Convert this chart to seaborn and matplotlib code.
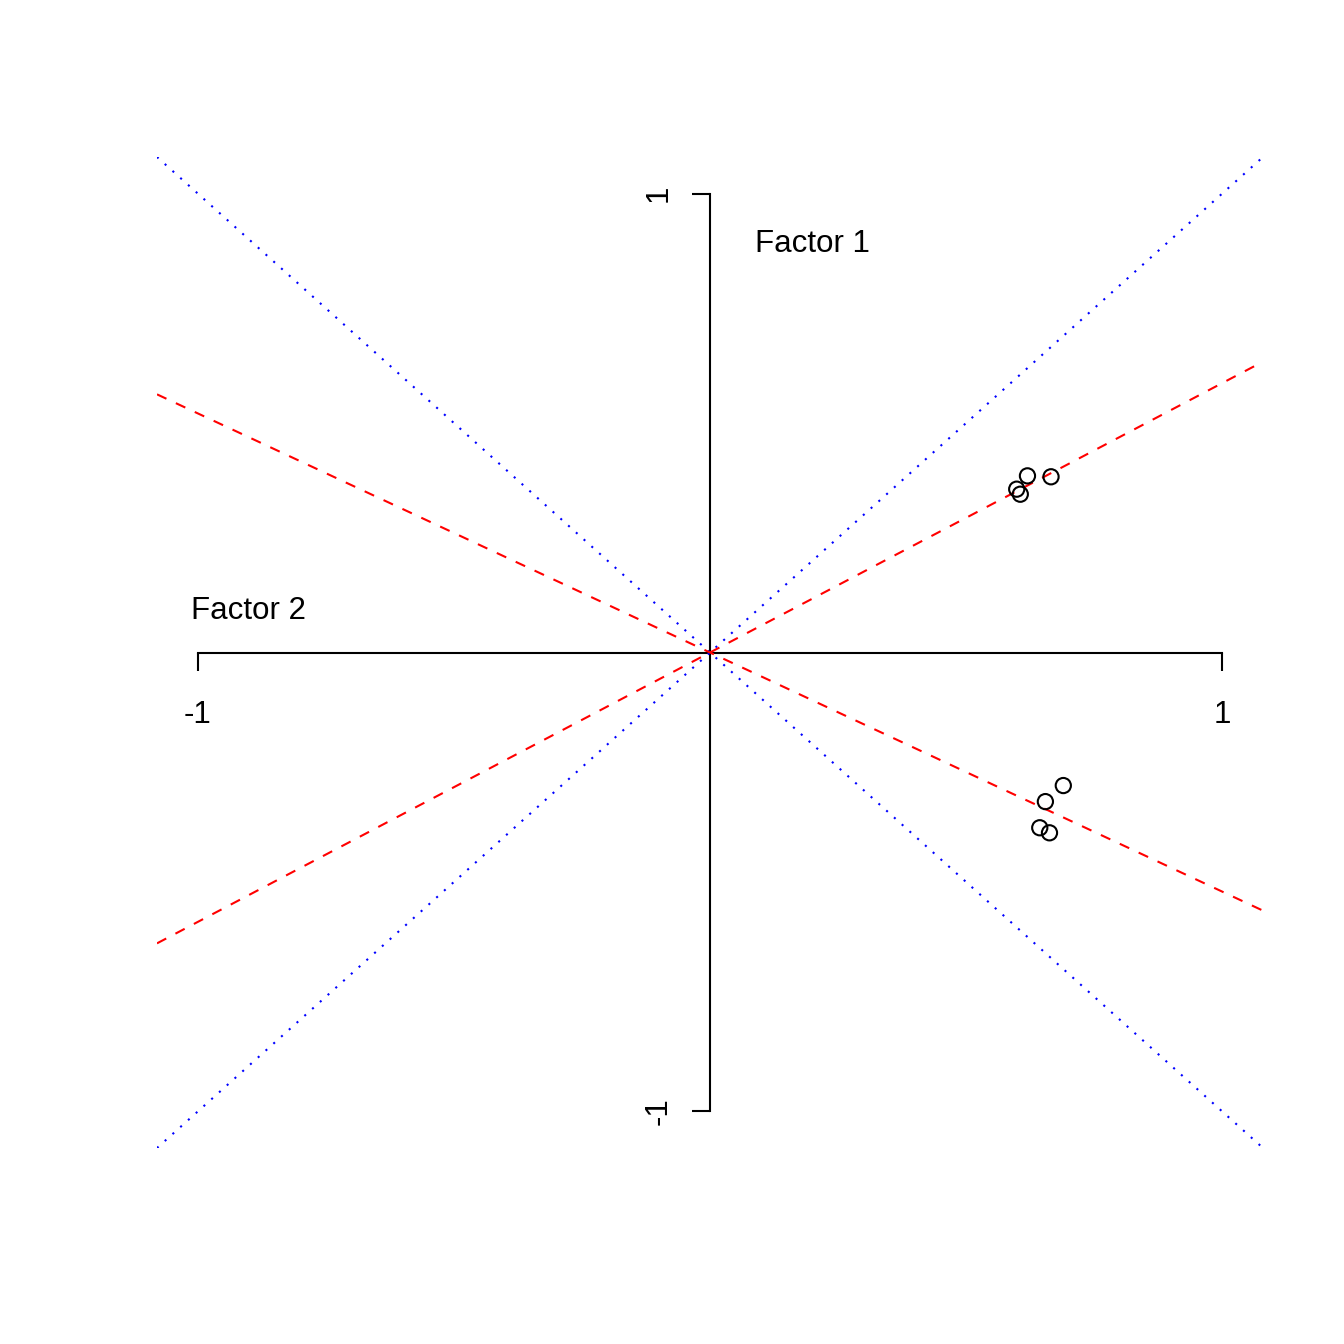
import pandas as pd
import seaborn as sns
import matplotlib.pyplot as plt

# loadings
load_x = [0.620, 0.666, 0.599, 0.606, 0.690, 0.655, 0.644, 0.663]
load_y = [0.385, 0.383, 0.356, 0.345, -0.290, -0.325, -0.382, -0.393]

# lines through the origin
blue_slopes = [1.0, -1.0]
red_slopes = [0.587, -0.521]

axis_ticks = [-1, 1]
axis_labels = ["-1", "1"]

sns.set_style("white")
plt.rcParams["font.family"] = ["Liberation Sans", "DejaVu Sans"]
plt.rcParams["text.color"] = "black"
plt.rcParams["xtick.color"] = "black"
plt.rcParams["ytick.color"] = "black"

df = pd.DataFrame({"x": load_x, "y": load_y})

fig = plt.figure(figsize=(13.44, 13.44), dpi=100)
ax = fig.add_axes([157 / 1344, 196 / 1344, 1106 / 1344, 991 / 1344])

for s in blue_slopes:
    ax.axline((0, 0), slope=s, color="blue", linewidth=1.5,
              dashes=(1, 4), zorder=3)
for s in red_slopes:
    ax.axline((0, 0), slope=s, color="red", linewidth=1.5,
              dashes=(5, 5), zorder=3)

sns.scatterplot(data=df, x="x", y="y", ax=ax, marker="o", s=120,
                facecolor="none", edgecolor="black", linewidth=1.5,
                zorder=4)

ax.set_xlim(-1.08, 1.08)
ax.set_ylim(-1.08, 1.08)

# axes through origin
for side in ["top", "right"]:
    ax.spines[side].set_visible(False)
for side in ["left", "bottom"]:
    ax.spines[side].set_position(("data", 0))
    ax.spines[side].set_bounds(-1, 1)
    ax.spines[side].set_linewidth(1.5)
    ax.spines[side].set_color("black")

ax.set_xticks(axis_ticks)
ax.set_xticklabels(axis_labels)
ax.set_yticks(axis_ticks)
ax.set_yticklabels(axis_labels, rotation=90, va="center")
ax.tick_params(axis="both", direction="out", length=13, width=1.5,
               color="black", labelcolor="black", labelsize=22.5,
               bottom=True, left=True)
ax.tick_params(axis="x", pad=21)
ax.tick_params(axis="y", pad=13.5)
ax.set_xlabel("")
ax.set_ylabel("")

ax.text(0.087, 0.891, "Factor 1", ha="left", va="center", fontsize=22.5,
        color="black")
ax.text(-1.014, 0.091, "Factor 2", ha="left", va="center", fontsize=22.5,
        color="black")

fig.savefig("out.png", dpi=100)
